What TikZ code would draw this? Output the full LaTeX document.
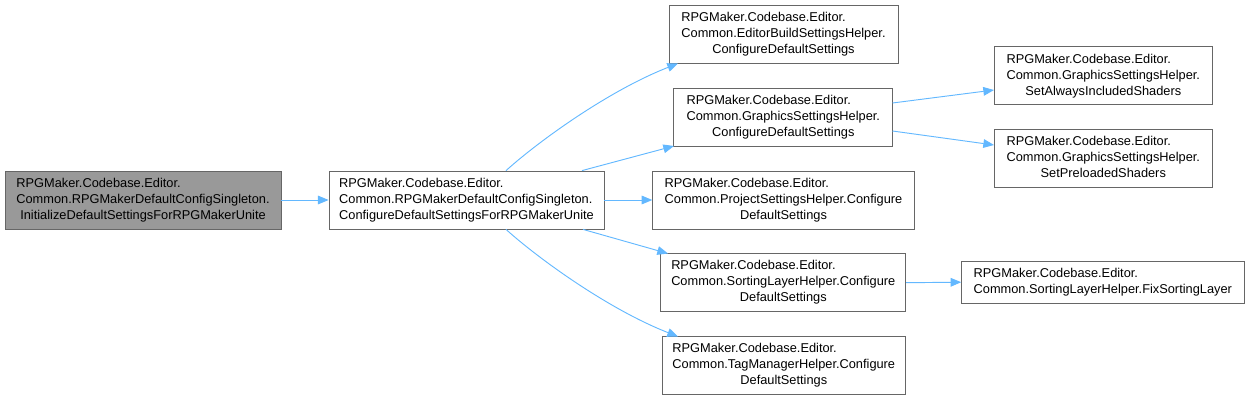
\documentclass[tikz,border=0pt]{standalone}
\usepackage{fontspec}
\setmainfont{Liberation Sans}
\usetikzlibrary{arrows.meta}
\definecolor{edgeblue}{HTML}{63B8FF}
\definecolor{boxborder}{HTML}{666666}
\definecolor{rootfill}{HTML}{999999}
\newcommand{\lbl}[3]{{\renewcommand{\arraystretch}{1}\begin{tabular}{@{}l@{}}#1\\#2\\\multicolumn{1}{@{}c@{}}{#3}\end{tabular}}}
\newcommand{\lbltwo}[2]{{\renewcommand{\arraystretch}{1}\begin{tabular}{@{}l@{}}#1\\#2\end{tabular}}}
\tikzset{
  fn/.style={draw=boxborder, line width=0.6pt, fill=white, inner sep=0pt, font=\fontsize{9.6}{12}\selectfont, text=black},
  rootfn/.style={fn, fill=rootfill},
  call/.style={draw=edgeblue, line width=0.7pt, -{Triangle[length=8pt,width=6.5pt]}}
}
\begin{document}
\begin{tikzpicture}[x=0.75pt,y=-0.75pt]
\useasboundingbox (0,0) rectangle (1250,400);
\node[rootfn, minimum width=207pt, minimum height=43.5pt] (n1) at (143,200) {\lbl{RPGMaker.Codebase.Editor.}{Common.RPGMakerDefaultConfigSingleton.}{InitializeDefaultSettingsForRPGMakerUnite}};
\node[fn, minimum width=206.25pt, minimum height=43.5pt] (n2) at (466.5,200) {\lbl{RPGMaker.Codebase.Editor.}{Common.RPGMakerDefaultConfigSingleton.}{ConfigureDefaultSettingsForRPGMakerUnite}};
\node[fn, minimum width=171.75pt, minimum height=43.5pt] (n3) at (783.5,34) {\lbl{RPGMaker.Codebase.Editor.}{Common.EditorBuildSettingsHelper.}{ConfigureDefaultSettings}};
\node[fn, minimum width=164.25pt, minimum height=43.5pt] (n4) at (783.3,117.3) {\lbl{RPGMaker.Codebase.Editor.}{Common.GraphicsSettingsHelper.}{ConfigureDefaultSettings}};
\node[fn, minimum width=196.2pt, minimum height=43.5pt] (n5) at (783.5,200) {\lbl{RPGMaker.Codebase.Editor.}{Common.ProjectSettingsHelper.Configure}{DefaultSettings}};
\node[fn, minimum width=183.75pt, minimum height=43.5pt] (n6) at (783.3,282.7) {\lbl{RPGMaker.Codebase.Editor.}{Common.SortingLayerHelper.Configure}{DefaultSettings}};
\node[fn, minimum width=182.75pt, minimum height=43.5pt] (n7) at (783.8,365.5) {\lbl{RPGMaker.Codebase.Editor.}{Common.TagManagerHelper.Configure}{DefaultSettings}};
\node[fn, minimum width=164pt, minimum height=43.5pt] (n8) at (1103.3,75.8) {\lbl{RPGMaker.Codebase.Editor.}{Common.GraphicsSettingsHelper.}{SetAlwaysIncludedShaders}};
\node[fn, minimum width=164pt, minimum height=43.5pt] (n9) at (1103.3,158.5) {\lbl{RPGMaker.Codebase.Editor.}{Common.GraphicsSettingsHelper.}{SetPreloadedShaders}};
\node[fn, minimum width=211.7pt, minimum height=31.7pt] (n10) at (1102.8,282.2) {\lbltwo{RPGMaker.Codebase.Editor.}{Common.SortingLayerHelper.FixSortingLayer}};
\coordinate (t3) at (678,63.5);
\coordinate (t4) at (674,146);
\coordinate (t6) at (668,253.5);
\coordinate (t7) at (678,336.5);
\coordinate (s8) at (892.5,103);
\coordinate (s9) at (892.5,131);
\coordinate (t8) at (994,90);
\coordinate (t9) at (994,145);
\draw[call] (n1.east) -- (n2.west);
\draw[call] (n2.north -| 506,0) .. controls (540,140) and (610,90) .. (t3);
\draw[call] (n2.north -| 582,0) -- (t4);
\draw[call] (n2.east) -- (n5.west);
\draw[call] (n2.south -| 583,0) -- (t6);
\draw[call] (n2.south -| 506,0) .. controls (540,260) and (610,310) .. (t7);
\draw[call] (s8) -- (t8);
\draw[call] (s9) -- (t9);
\draw[call] (n6.east) -- (n10.west);
\end{tikzpicture}
\end{document}
